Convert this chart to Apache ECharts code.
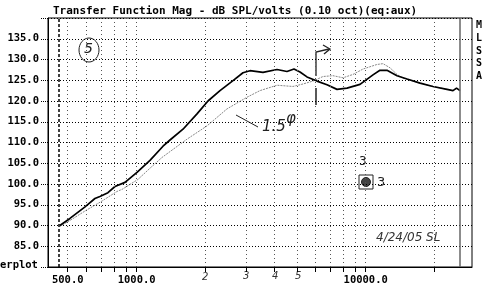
<!DOCTYPE html>
<html>
<head>
<meta charset="utf-8">
<script src="https://cdn.jsdelivr.net/npm/echarts@6/dist/echarts.min.js"></script>
<style>html,body{margin:0;padding:0;background:#fff}#c{width:488px;height:287px}</style>
</head>
<body>
<div id="c"></div>
<script>
// Black (solid) trace
const freqA = [462,511,595,657,691,749,804,889,1003,1143,1303,1398,1593,1834,2048,2311,2634,2912,3124,3560,4100,4532,4863,5166,5542,6128,6776,7493,8287,9443,10760,11540,12390,13700,15150,17270,19670,22650,24060,24920,25810];
const dbA   = [90.0,91.7,94.5,96.5,97.0,97.9,99.4,100.4,102.8,105.7,109.1,110.6,113.2,116.9,120.0,122.5,124.9,126.8,127.3,126.9,127.6,127.1,127.7,127.0,125.8,124.8,123.9,122.8,123.1,124.0,126.3,127.4,127.4,126.1,125.3,124.3,123.5,122.8,122.5,123.1,122.5];
// Gray (dotted) trace
const freqB = [462,511,595,706,820,863,1013,1143,1290,1658,2028,2480,3031,3454,4100,4814,5324,5886,6509,7197,7959,8802,9732,11200,11900,12770,13700,14550,15150,17270,19670,22650,24060,24920,25810];
const dbB   = [89.8,91.2,93.5,95.9,98.2,98.7,101.1,103.8,106.4,110.8,114.0,118.1,120.9,122.5,123.8,123.5,124.1,124.8,125.9,126.1,125.6,126.4,127.7,128.8,129.0,128.0,126.4,125.5,125.3,124.3,123.5,122.8,122.5,123.1,122.5];
// Axis ticks
const xTickValues = [500,600,700,800,900,1000,2000,3000,4000,5000,6000,7000,8000,9000,10000,20000];
const xLabelValues = [500,1000,10000];
const yMin = 80, yMax = 140, yStep = 5;
const cursorFreqs = [458,25800];

const mono = '"DejaVu Sans Mono","Liberation Mono",monospace';
const chart = echarts.init(document.getElementById('c'), null, {renderer:'canvas'});
chart.setOption({
  animation:false,
  backgroundColor:'#fff',
  grid:{left:48,right:16,top:18,bottom:20,show:true,borderColor:'#000',borderWidth:1},
  title:{text:'Transfer Function Mag - dB SPL/volts (0.10 oct)(eq:aux)',left:48,top:1,
    textStyle:{fontFamily:mono,fontSize:11,fontWeight:'bold',color:'#000'}},
  xAxis:{type:'log',logBase:10,min:410,max:29120,
    axisLine:{show:true,lineStyle:{color:'#000',width:1}},
    axisTick:{show:true,length:5,customValues:xTickValues,lineStyle:{color:'#000'}},
    axisLabel:{customValues:xLabelValues,formatter:v=>Number(v).toFixed(1),margin:8,
      fontFamily:mono,fontSize:10.5,fontWeight:'bold',color:'#000'},
    splitLine:{show:false},minorTick:{show:false}},
  yAxis:{type:'value',min:yMin,max:yMax,interval:yStep,
    axisLine:{show:true,lineStyle:{color:'#000'}},
    axisTick:{show:true,length:8,lineStyle:{color:'#000',type:'dotted'}},
    axisLabel:{margin:9,fontFamily:mono,fontSize:10.5,fontWeight:'bold',color:'#000',
      formatter:v=>(v===yMin||v===yMax)?'':v.toFixed(1)},
    splitLine:{show:true,lineStyle:{color:'#000',type:[1,2],width:1}}},
  graphic:[
    {type:'text',left:0,top:260,style:{text:'erplot',font:'bold 10.5px '+mono,fill:'#000'}},
    {type:'text',left:476,top:19,style:{text:'M\nL\nS\nS\nA',font:'bold 10px '+mono,fill:'#000',lineHeight:12.8}},
    // handwritten annotations
    {type:'ellipse',shape:{cx:89,cy:50,rx:10,ry:12},style:{fill:'none',stroke:'#222',lineWidth:1}},
    {type:'text',x:84,y:42,style:{text:'5',font:'italic 14px "DejaVu Sans"',fill:'#222'}},
    {type:'line',shape:{x1:236,y1:115,x2:258,y2:127},style:{stroke:'#222',lineWidth:1}},
    {type:'text',x:262,y:120,style:{text:'1.5',font:'italic 15px "DejaVu Sans"',fill:'#222'}},
    {type:'text',x:286,y:112,style:{text:'φ',font:'italic 15px "DejaVu Sans"',fill:'#222'}},
    {type:'polyline',shape:{points:[[316,76],[316,52],[329,49]]},style:{stroke:'#222',lineWidth:1.3,fill:'none'}},
    {type:'polyline',shape:{points:[[323,45],[330,49],[324,54]]},style:{stroke:'#222',lineWidth:1.3,fill:'none'}},
    {type:'line',shape:{x1:316,y1:88,x2:316,y2:105},style:{stroke:'#222',lineWidth:1.5}},
    {type:'text',x:359,y:156,style:{text:'3',font:'12px "DejaVu Sans"',fill:'#222'}},
    {type:'rect',shape:{x:359,y:175,width:14,height:14},style:{fill:'none',stroke:'#222',lineWidth:1}},
    {type:'circle',shape:{cx:366,cy:182,r:4.5},style:{fill:'#444',stroke:'#222'}},
    {type:'text',x:377,y:176,style:{text:'3',font:'13px "DejaVu Sans"',fill:'#222'}},
    {type:'text',x:376,y:232,style:{text:'4/24/05 SL',font:'italic 12px "DejaVu Sans"',fill:'#333'}},
    {type:'text',x:202,y:272,style:{text:'2',font:'italic 10px "DejaVu Sans"',fill:'#333'}},
    {type:'text',x:243,y:271,style:{text:'3',font:'italic 10px "DejaVu Sans"',fill:'#333'}},
    {type:'text',x:272,y:271,style:{text:'4',font:'italic 10px "DejaVu Sans"',fill:'#333'}},
    {type:'text',x:295,y:271,style:{text:'5',font:'italic 10px "DejaVu Sans"',fill:'#333'}}
  ],
  series:[
    {type:'line',name:'grid',data:[],silent:true,
      markLine:{silent:true,symbol:'none',label:{show:false},
        lineStyle:{color:'#555',type:[1,3],width:1},
        data:xTickValues.map(f=>({xAxis:f}))}},
    {type:'line',name:'B',data:freqB.map((f,i)=>[f,dbB[i]]),showSymbol:false,
      lineStyle:{color:'#888',width:1,type:[2,1]},z:3},
    {type:'line',name:'A',data:freqA.map((f,i)=>[f,dbA[i]]),showSymbol:false,
      lineStyle:{color:'#000',width:1.7},z:4,
      markLine:{silent:true,symbol:'none',label:{show:false},
        data:[{xAxis:cursorFreqs[0],lineStyle:{color:'#000',type:[3,2],width:1.5}},
              {xAxis:cursorFreqs[1],lineStyle:{color:'#666',type:'solid',width:1.5}}]}}
  ]
});
</script>
</body>
</html>
